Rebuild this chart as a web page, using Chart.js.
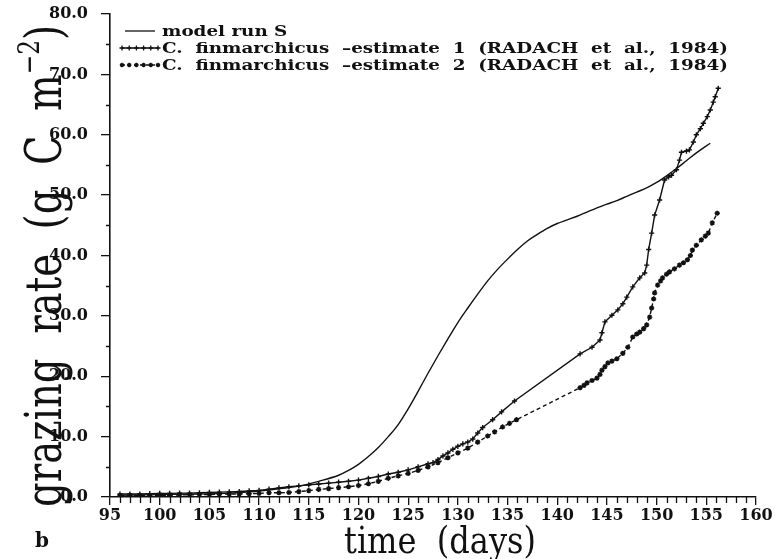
<!DOCTYPE html>
<html>
<head>
<meta charset="utf-8">
<title>grazing rate</title>
<script src="https://cdn.jsdelivr.net/npm/chart.js@4.4.0/dist/chart.umd.min.js"></script>
<style>
  html, body { margin: 0; padding: 0; background: #fff; }
  #wrap { width: 775px; height: 559px; }
</style>
</head>
<body>
<div id="wrap"><canvas id="c" width="775" height="559"></canvas></div>
<script>
// ---- axis ranges and tick steps ----
const xMin = 95, xMax = 160, xLabelStep = 5, xMinorStep = 1;
const yMin = 0, yMax = 80, yLabelStep = 10, yMinorStep = 5;

// ---- model run S (smooth curve) ----
const modelDays   = [96, 100, 104, 107, 110, 112, 114, 116, 118, 119, 120, 121, 122, 123, 124, 125, 126, 127, 128, 129, 130, 131, 132, 133, 134, 135, 136, 137, 138, 139, 140, 141, 142, 143, 144, 145, 146, 147, 148, 149, 150, 151, 152, 153, 154, 155.4];
const modelValues = [0.3, 0.4, 0.5, 0.65, 1.0, 1.35, 1.8, 2.6, 3.6, 4.4, 5.4, 6.7, 8.2, 10.0, 12.0, 14.6, 17.5, 20.5, 23.4, 26.2, 28.9, 31.3, 33.6, 35.8, 37.7, 39.4, 41.0, 42.4, 43.5, 44.5, 45.3, 45.9, 46.5, 47.2, 47.9, 48.5, 49.1, 49.8, 50.5, 51.2, 52.1, 53.2, 54.4, 55.7, 57.0, 58.6];

// ---- C. finmarchicus, estimate 1 ----
const est1Days   = [96, 97, 98, 99, 100, 101, 102, 103, 104, 105, 106, 107, 108, 109, 110, 111, 112, 113, 114, 115, 116, 117, 118, 119, 120, 121, 122, 123, 124, 125, 126, 127, 127.5, 128, 128.5, 129, 129.5, 130, 130.5, 131, 131.5, 132, 132.5, 133.5, 134.4, 135.7, 142.3, 143.5, 144.3, 144.5, 144.8, 145.5, 146.1, 146.6, 147.0, 147.6, 148.3, 148.8, 149.0, 149.2, 149.5, 149.8, 150.3, 150.8, 151.2, 151.5, 152.0, 152.3, 152.5, 153.0, 153.3, 153.7, 154.0, 154.4, 154.7, 155.1, 155.4, 155.7, 155.9, 156.2];
const est1Values = [0.5, 0.5, 0.5, 0.55, 0.6, 0.6, 0.65, 0.65, 0.7, 0.75, 0.8, 0.85, 0.9, 1.0, 1.1, 1.3, 1.5, 1.7, 1.85, 2.0, 2.15, 2.3, 2.45, 2.6, 2.8, 3.1, 3.4, 3.8, 4.1, 4.5, 5.0, 5.5, 5.7, 6.2, 6.8, 7.3, 7.9, 8.4, 8.8, 9.1, 9.6, 10.6, 11.5, 12.8, 14.1, 15.9, 23.7, 24.8, 26.0, 27.2, 29.0, 30.1, 31.0, 32.0, 33.1, 34.8, 36.3, 37.1, 38.4, 41.0, 43.7, 46.7, 49.2, 52.5, 53.0, 53.3, 54.2, 55.8, 57.1, 57.3, 57.5, 58.8, 60.0, 61.0, 61.9, 63.0, 64.1, 65.4, 66.3, 67.7];

// ---- C. finmarchicus, estimate 2 ----
const est2Days   = [96, 97, 98, 99, 100, 101, 102, 103, 104, 105, 106, 107, 108, 109, 110, 111, 112, 113, 114, 115, 116, 117, 118, 119, 120, 121, 122, 123, 124, 125, 126, 127, 128, 129, 130, 131, 132, 133, 133.7, 134.5, 135.2, 135.9, 142.3, 142.7, 143.0, 143.5, 144.0, 144.3, 144.5, 144.8, 145.1, 145.5, 146.0, 146.6, 147.1, 147.6, 148.0, 148.3, 148.7, 149.0, 149.3, 149.5, 149.7, 149.8, 150.1, 150.4, 150.6, 151.0, 151.3, 151.8, 152.3, 152.7, 153.1, 153.4, 153.6, 154.0, 154.5, 154.9, 155.2, 155.6, 156.1];
const est2Values = [0.2, 0.2, 0.25, 0.25, 0.3, 0.3, 0.35, 0.35, 0.4, 0.4, 0.45, 0.5, 0.5, 0.55, 0.6, 0.7, 0.7, 0.75, 0.9, 1.05, 1.25, 1.4, 1.55, 1.7, 1.9, 2.2, 2.6, 3.1, 3.5, 3.9, 4.4, 5.0, 5.7, 6.5, 7.3, 8.1, 9.1, 10.1, 10.8, 11.6, 12.2, 12.8, 18.1, 18.5, 18.9, 19.3, 19.7, 20.3, 21.0, 21.6, 22.2, 22.5, 22.9, 23.8, 24.8, 26.5, 27.0, 27.3, 27.9, 28.5, 29.8, 31.3, 32.8, 33.8, 35.1, 35.8, 36.3, 36.9, 37.3, 37.8, 38.4, 38.8, 39.3, 40.0, 40.9, 41.7, 42.6, 43.2, 43.7, 45.4, 47.0];

// ---- texts ----
const seriesNames = [
  'model run S',
  'C.  finmarchicus  \u2013estimate  1  (RADACH  et  al.,  1984)',
  'C.  finmarchicus  \u2013estimate  2  (RADACH  et  al.,  1984)'
];
const xTitle = 'time  (days)';
const yTitleMain = 'grazing  rate  (g  C  m';
const yTitleSup = '\u22122';
const yTitleEnd = ')';
const panelLetter = 'b';

const SERIF = '"DejaVu Serif", "Liberation Serif", serif';
const INK = '#111';

const toPoints = (xs, ys) => xs.map((x, i) => ({ x, y: ys[i] }));

// marker glyphs for the legend samples
function drawMarker(ctx, style, x, y, r) {
  ctx.beginPath();
  ctx.moveTo(x - r, y); ctx.lineTo(x + r, y);
  ctx.moveTo(x, y - r); ctx.lineTo(x, y + r);
  if (style === 'star') {
    const d = r * 0.7071;
    ctx.moveTo(x - d, y - d); ctx.lineTo(x + d, y + d);
    ctx.moveTo(x - d, y + d); ctx.lineTo(x + d, y - d);
  }
  ctx.stroke();
}

const decorations = {
  id: 'decorations',
  beforeDraw(chart) {
    const ctx = chart.ctx;
    ctx.save();
    ctx.fillStyle = '#fff';
    ctx.fillRect(0, 0, chart.width, chart.height);
    ctx.restore();
  },
  afterDraw(chart) {
    const ctx = chart.ctx;
    const xs = chart.scales.x, ys = chart.scales.y;
    ctx.save();
    ctx.strokeStyle = INK;
    ctx.fillStyle = INK;
    ctx.lineWidth = 1.3;

    // minor ticks on both axes
    ctx.beginPath();
    for (let d = xMin; d <= xMax; d += xMinorStep) {
      if (d % xLabelStep === 0) continue;
      const px = Math.round(xs.getPixelForValue(d)) + 0.5;
      ctx.moveTo(px, xs.top); ctx.lineTo(px, xs.top + 6);
    }
    for (let v = yMin; v <= yMax; v += yMinorStep) {
      if (v % yLabelStep === 0) continue;
      const py = Math.round(ys.getPixelForValue(v)) + 0.5;
      ctx.moveTo(ys.right, py); ctx.lineTo(ys.right - 4, py);
    }
    ctx.stroke();

    // legend block
    const rowY = [31, 48, 65];
    const textX = 162;
    ctx.lineWidth = 1.3;
    ctx.beginPath(); ctx.moveTo(125, rowY[0]); ctx.lineTo(155, rowY[0]); ctx.stroke();
    ctx.beginPath(); ctx.moveTo(122, rowY[1]); ctx.lineTo(158, rowY[1]); ctx.stroke();
    for (let i = 0; i < 6; i++) drawMarker(ctx, 'cross', 122 + i * 7.2, rowY[1], 2.5);
    ctx.setLineDash([3, 3]);
    ctx.beginPath(); ctx.moveTo(122, rowY[2]); ctx.lineTo(158, rowY[2]); ctx.stroke();
    ctx.setLineDash([]);
    for (let i = 0; i < 6; i++) drawMarker(ctx, 'star', 122 + i * 7.2, rowY[2], 2.2);

    ctx.font = 'bold 15px ' + SERIF;
    ctx.textBaseline = 'middle';
    ctx.textAlign = 'left';
    const legendScale = 566 / ctx.measureText(seriesNames[1]).width;
    seriesNames.forEach((t, i) => {
      ctx.save();
      ctx.translate(textX, rowY[i] + 1);
      ctx.scale(legendScale, 1);
      ctx.fillText(t, 0, 0);
      ctx.restore();
    });

    // x axis title
    ctx.save();
    ctx.font = '38px ' + SERIF;
    ctx.textAlign = 'center';
    ctx.textBaseline = 'alphabetic';
    const xtW = ctx.measureText(xTitle).width;
    ctx.translate(440, 553);
    ctx.scale(192 / xtW, 1);
    ctx.fillText(xTitle, 0, 0);
    ctx.restore();

    // y axis title with superscript
    ctx.save();
    const base = 50;
    const parts = [
      { t: yTitleMain, size: base, dy: 0 },
      { t: yTitleSup, size: Math.round(base * 0.6), dy: -base * 0.45 },
      { t: yTitleEnd, size: base, dy: 0 }
    ];
    let total = 0;
    parts.forEach(p => { ctx.font = p.size + 'px ' + SERIF; p.w = ctx.measureText(p.t).width; total += p.w; });
    const sx = 482 / total;
    ctx.translate(61, 266);
    ctx.rotate(-Math.PI / 2);
    ctx.scale(sx, 1);
    ctx.textAlign = 'left';
    ctx.textBaseline = 'alphabetic';
    let cx = -total / 2;
    parts.forEach(p => { ctx.font = p.size + 'px ' + SERIF; ctx.fillText(p.t, cx, p.dy); cx += p.w; });
    ctx.restore();

    // panel letter
    ctx.font = 'bold 20px ' + SERIF;
    ctx.textAlign = 'left';
    ctx.textBaseline = 'alphabetic';
    ctx.fillText(panelLetter, 35, 547);

    ctx.restore();
  }
};

new Chart(document.getElementById('c'), {
  type: 'line',
  data: {
    datasets: [
      {
        label: seriesNames[0],
        data: toPoints(modelDays, modelValues),
        borderColor: INK, borderWidth: 1.4,
        pointRadius: 0, cubicInterpolationMode: 'monotone', fill: false
      },
      {
        label: seriesNames[1],
        data: toPoints(est1Days, est1Values),
        borderColor: INK, borderWidth: 1.4, tension: 0,
        pointStyle: 'cross', pointRadius: 2.6, pointBorderWidth: 1.4,
        pointBorderColor: INK, pointBackgroundColor: INK, fill: false
      },
      {
        label: seriesNames[2],
        data: toPoints(est2Days, est2Values),
        borderColor: INK, borderWidth: 1.4, tension: 0, borderDash: [4, 3],
        pointStyle: 'star', pointRadius: 2.6, pointBorderWidth: 1.4,
        pointBorderColor: INK, pointBackgroundColor: INK, fill: false
      }
    ]
  },
  options: {
    responsive: false,
    animation: false,
    devicePixelRatio: 1,
    layout: { padding: { left: 0, right: 19, top: 14, bottom: 0 } },
    plugins: { legend: { display: false }, tooltip: { enabled: false } },
    scales: {
      x: {
        type: 'linear', min: xMin, max: xMax,
        afterFit(scale) { scale.height = 62; scale.paddingLeft = 0; scale.paddingRight = 0; },
        border: { display: true, color: INK, width: 1.6 },
        grid: { drawOnChartArea: false, drawTicks: true, tickLength: 8, color: INK, lineWidth: 1.3 },
        ticks: {
          stepSize: xLabelStep, autoSkip: false, maxRotation: 0, padding: 1, color: INK,
          font: { family: SERIF, size: 16, weight: 'bold' }
        }
      },
      y: {
        type: 'linear', min: yMin, max: yMax,
        afterFit(scale) { scale.width = 110; scale.paddingTop = 0; scale.paddingBottom = 0; },
        border: { display: true, color: INK, width: 1.6 },
        grid: { drawOnChartArea: false, drawTicks: true, tickLength: 9, color: INK, lineWidth: 1.3 },
        ticks: {
          stepSize: yLabelStep, autoSkip: false, padding: 13, color: INK,
          font: { family: SERIF, size: 16, weight: 'bold' },
          callback: v => Number(v).toFixed(1)
        }
      }
    }
  },
  plugins: [decorations]
});
</script>
</body>
</html>
